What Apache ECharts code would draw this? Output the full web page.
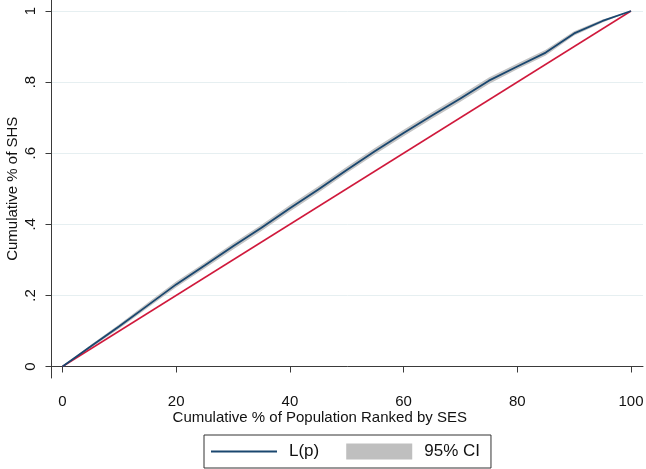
<!DOCTYPE html>
<html>
<head>
<meta charset="utf-8">
<script src="https://cdn.jsdelivr.net/npm/echarts@6/dist/echarts.min.js"></script>
<style>html,body{margin:0;padding:0;background:#fff;}#chart{width:646px;height:469px;}</style>
</head>
<body>
<div id="chart"></div>
<script>
// Cumulative % of population ranked by SES
const xPct = [0,5,10,15,20,25,30,35,40,45,50,55,60,65,70,75,80,85,90,95,100];
// Concentration curve L(p)
const lp = [0,0.057,0.113,0.172,0.231,0.284,0.338,0.390,0.445,0.498,0.553,0.606,0.657,0.706,0.754,0.804,0.844,0.883,0.937,0.972,1];
// 95% confidence band
const ciLower = [0,0.053,0.107,0.165,0.223,0.276,0.329,0.381,0.436,0.489,0.544,0.597,0.648,0.697,0.745,0.795,0.836,0.875,0.931,0.968,1];
const ciUpper = [0,0.061,0.119,0.179,0.239,0.292,0.347,0.399,0.454,0.507,0.562,0.615,0.666,0.715,0.763,0.813,0.852,0.891,0.943,0.976,1];
// Line of equality
const eqX = [0,100];
const eqY = [0,1];
// Ticks
const xTicks = [0,20,40,60,80,100];
const yTicks = [0,0.2,0.4,0.6,0.8,1];
const yTickLabels = ['0','.2','.4','.6','.8','1'];

const FONT = '"Liberation Sans", Arial, Helvetica, sans-serif';
const TXT = '#111';
const AX = '#3a3a3a';

const G0 = {left: 62.5, right: 15, top: 11, bottom: 102.5};
const G1 = {left: 51.5, right: 3, top: 0, bottom: 91};
const H = 469;
const pxPerY = (H - G0.top - G0.bottom);
const y1Min = -((H - G1.bottom) - (H - G0.bottom)) / pxPerY;
const y1Max = 1 + (G0.top - G1.top) / pxPerY;

const cats = xPct.map(String);
const isTick = (i) => xTicks.indexOf(xPct[i]) >= 0;
const lineIcon = 'path://M0,0L66,0L66,0.01Z M0,7.1H66V8.9H0Z M0,16L66,16L66,15.99Z';

const chart = echarts.init(document.getElementById('chart'), null, {renderer: 'canvas'});
chart.setOption({
  animation: false,
  backgroundColor: '#fff',
  textStyle: {fontFamily: FONT},
  grid: [
    {left: G0.left, right: G0.right, top: G0.top, bottom: G0.bottom, containLabel: false, outerBoundsMode: 'none'},
    {left: G1.left, right: G1.right, top: G1.top, bottom: G1.bottom, containLabel: false, outerBoundsMode: 'none'}
  ],
  legend: {
    left: 204, top: 435,
    orient: 'horizontal',
    padding: [8, 11, 8, 7],
    itemWidth: 66, itemHeight: 16, itemGap: 27,
    borderColor: '#333', borderWidth: 1, borderRadius: 0,
    selectedMode: false,
    textStyle: {fontSize: 17, color: TXT, fontFamily: FONT, padding: [0, 0, 0, 7]},
    data: [
      {name: 'L(p)', icon: lineIcon, itemStyle: {color: '#1a476f', borderWidth: 0}},
      {name: '95% CI', icon: 'rect', itemStyle: {color: '#bfbfbf', borderWidth: 0}}
    ]
  },
  xAxis: [
    {
      gridIndex: 0, type: 'category', data: cats, boundaryGap: false, offset: 11.5,
      axisLine: {show: false},
      axisTick: {show: true, length: 6, interval: (i) => isTick(i), lineStyle: {color: AX}},
      axisLabel: {show: true, margin: 16, fontSize: 15, color: TXT, fontFamily: FONT, interval: (i) => isTick(i)},
      splitLine: {show: false},
      name: 'Cumulative % of Population Ranked by SES',
      nameLocation: 'middle', nameGap: 32, nameMoveOverlap: false,
      nameTextStyle: {fontSize: 15, color: TXT, fontFamily: FONT, padding: [0, 54, 0, 0]}
    },
    {
      gridIndex: 1, type: 'value', min: 0, max: 1,
      axisLine: {show: true, lineStyle: {color: AX, width: 1}},
      axisTick: {show: false}, axisLabel: {show: false}, splitLine: {show: false}
    }
  ],
  yAxis: [
    {
      gridIndex: 0, type: 'value', min: 0, max: 1, interval: 0.2, offset: 11,
      axisLine: {show: false},
      axisTick: {show: true, length: 6, lineStyle: {color: AX}},
      axisLabel: {show: true, rotate: 90, margin: 13, fontSize: 15, color: TXT, fontFamily: FONT,
        formatter: (v) => { const i = yTicks.findIndex(t => Math.abs(t - v) < 1e-9); return i >= 0 ? yTickLabels[i] : ''; }},
      splitLine: {show: false},
      name: 'Cumulative % of SHS',
      nameLocation: 'middle', nameGap: 31, nameRotate: 90, nameMoveOverlap: false,
      nameTextStyle: {fontSize: 15, color: TXT, fontFamily: FONT}
    },
    {
      gridIndex: 1, type: 'value', min: y1Min, max: y1Max,
      axisLine: {show: true, lineStyle: {color: AX, width: 1}},
      axisTick: {show: false}, axisLabel: {show: false}, splitLine: {show: false}
    }
  ],
  series: [
    {
      name: 'gridlines', type: 'line', xAxisIndex: 1, yAxisIndex: 1,
      data: [], silent: true, z: 0,
      markLine: {
        silent: true, symbol: 'none', animation: false, z: 0,
        label: {show: false},
        lineStyle: {color: '#e6eff1', type: 'solid', width: 1},
        data: yTicks.map(v => ({yAxis: v}))
      }
    },
    {
      name: 'ciBase', type: 'line', xAxisIndex: 0, yAxisIndex: 0, stack: 'ci',
      data: ciLower,
      showSymbol: false, symbol: 'none', lineStyle: {width: 0, opacity: 0}, z: 2, silent: true
    },
    {
      name: '95% CI', type: 'line', xAxisIndex: 0, yAxisIndex: 0, stack: 'ci',
      data: ciUpper.map((u, i) => +(u - ciLower[i]).toFixed(4)),
      showSymbol: false, symbol: 'none', lineStyle: {width: 0, opacity: 0},
      itemStyle: {color: '#bfbfbf'},
      areaStyle: {color: '#c4c4c4', opacity: 1}, z: 2, silent: true
    },
    {
      name: 'equality', type: 'line', xAxisIndex: 0, yAxisIndex: 0,
      data: eqX.map((x, i) => [String(x), eqY[i]]),
      showSymbol: false, symbol: 'none', lineStyle: {color: '#d0193c', width: 1.5}, z: 3, silent: true
    },
    {
      name: 'L(p)', type: 'line', xAxisIndex: 0, yAxisIndex: 0,
      data: lp,
      showSymbol: false, symbol: 'none', lineStyle: {color: '#1a476f', width: 1.8},
      itemStyle: {color: '#1a476f'}, z: 4, silent: true
    }
  ]
});
</script>
</body>
</html>
